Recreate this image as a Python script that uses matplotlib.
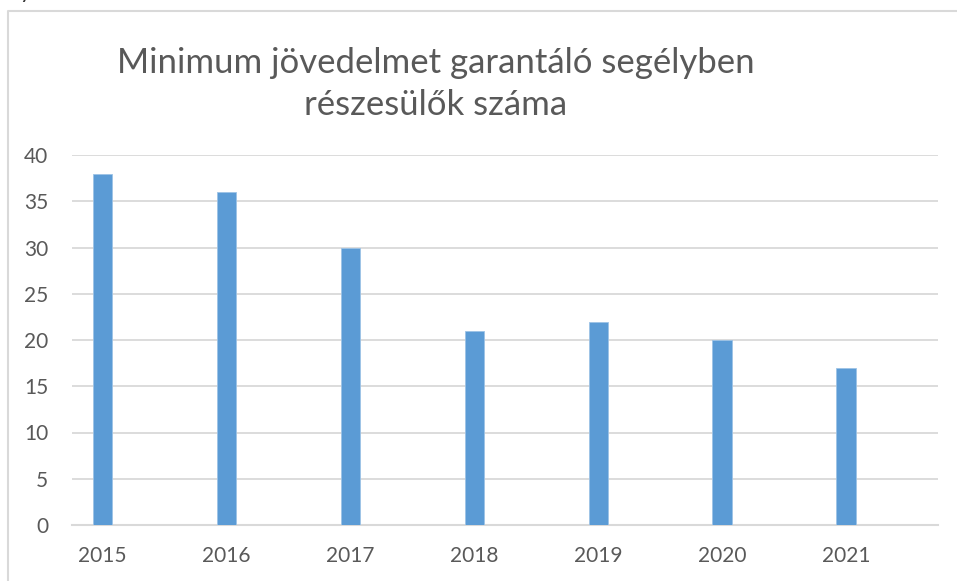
import matplotlib.pyplot as plt
from matplotlib.lines import Line2D

years = ["2015", "2016", "2017", "2018", "2019", "2020", "2021"]
values = [38, 36, 30, 21, 22, 20, 17]
y_ticks = [0, 5, 10, 15, 20, 25, 30, 35, 40]

title = "Minimum jövedelmet garantáló segélyben\nrészesülők száma"

plt.rcParams['font.family'] = ['Lato', 'DejaVu Sans']
text_color = "#595959"
grid_color = "#d9d9d9"

fig = plt.figure(figsize=(9.57, 5.81), dpi=100)
ax = fig.add_axes([72 / 957, 1 - 525 / 581, (938 - 72) / 957, (525 - 155) / 581])

x = range(len(years))
ax.bar(x, values, width=0.155, color="#5b9bd5", edgecolor="#9dc3e6", linewidth=0.6, zorder=3)

ax.set_xlim(-0.246, 6.743)
ax.set_ylim(0, 40)
ax.set_yticks(y_ticks)
ax.set_yticklabels([str(v) for v in y_ticks])
ax.set_xticks(list(x))
ax.set_xticklabels(years)
ax.tick_params(axis="both", length=0, labelsize=15, colors=text_color)
ax.tick_params(axis="y", pad=17)
ax.tick_params(axis="x", pad=15)
ax.yaxis.grid(True, color=grid_color, linewidth=1.3, zorder=0)
ax.set_axisbelow(True)
for side in ["left", "right", "top"]:
    ax.spines[side].set_visible(False)
ax.spines["bottom"].set_color(grid_color)
ax.spines["bottom"].set_linewidth(1.5)

fig.text(436 / 957, 1 - 84 / 581, title, ha="center", va="center",
         fontsize=25, color=text_color, linespacing=1.42)

# chart frame (only top and left edges visible)
fig.add_artist(Line2D([8 / 957, 8 / 957, 1.0], [0.0, 1 - 11 / 581, 1 - 11 / 581],
                      color=grid_color, linewidth=1.5))
# clipped glyph from text above the chart
fig.text(20 / 957, 1 + 2 / 581, "y", fontsize=16, color="#333333", va="baseline")

fig.savefig("out.png", dpi=100)
